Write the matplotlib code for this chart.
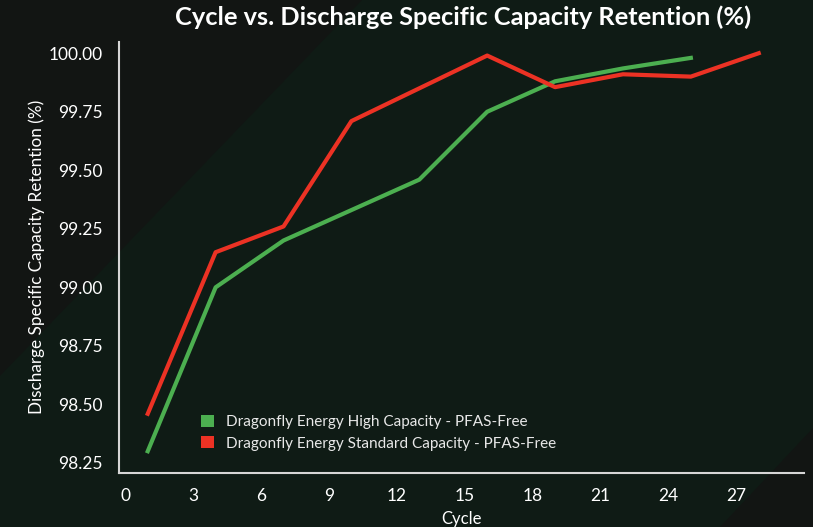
import matplotlib
matplotlib.use("Agg")
import matplotlib.pyplot as plt
from matplotlib.patches import Polygon, Patch

cycles_high = [1, 4, 7, 10, 13, 16, 19, 22, 25]
retention_high = [98.30, 99.00, 99.20, 99.33, 99.46, 99.75, 99.88, 99.935, 99.98]

cycles_std = [1, 4, 7, 10, 13, 16, 19, 22, 25, 28]
retention_std = [98.46, 99.15, 99.26, 99.71, 99.85, 99.99, 99.855, 99.91, 99.90, 100.00]

x_ticks = [0, 3, 6, 9, 12, 15, 18, 21, 24, 27]
y_ticks = [98.25, 98.50, 98.75, 99.00, 99.25, 99.50, 99.75, 100.00]

labels = ["Dragonfly Energy High Capacity - PFAS-Free",
          "Dragonfly Energy Standard Capacity - PFAS-Free"]
green = "#4caf50"
red = "#ec3224"
bg = "#0f1b15"
dark = "#121513"

plt.rcParams['font.family'] = ['Lato', 'DejaVu Sans']

fig = plt.figure(figsize=(8.13, 5.27), dpi=100)
fig.patch.set_facecolor(bg)

# background axes with the dark diagonal corners
W, H = 813, 527
bgax = fig.add_axes([0, 0, 1, 1], zorder=-1)
bgax.set_xlim(0, 1)
bgax.set_ylim(0, 1)
bgax.axis("off")
tl = [(0, 1), (362 / W, 1), (0, 1 - 376 / H)]
br = [(1, 1 - 428 / H), (1, 0), (720 / W, 0)]
for pts in (tl, br):
    bgax.add_patch(Polygon(pts, closed=True, facecolor=dark, edgecolor="none"))

ax = fig.add_axes([119 / W, 1 - 473 / H, 685 / W, 431.5 / H], zorder=1)
ax.set_facecolor("none")

ax.plot(cycles_high, retention_high, color=green, lw=3, solid_joinstyle="round")
ax.plot(cycles_std, retention_std, color=red, lw=3, solid_joinstyle="round")

ax.set_xlim(-0.27, 30)
ax.set_ylim(98.207, 100.05)
ax.set_xticks(x_ticks)
ax.set_yticks(y_ticks)
ax.set_yticklabels(["%.2f" % v for v in y_ticks])
ax.tick_params(length=0, colors="white", labelsize=12.5)
ax.tick_params(axis="x", pad=11)
ax.tick_params(axis="y", pad=12)

for s in ["top", "right"]:
    ax.spines[s].set_visible(False)
for s in ["left", "bottom"]:
    ax.spines[s].set_color("#d6d6d6")
    ax.spines[s].set_linewidth(1.5)

ax.set_xlabel("Cycle", color="white", fontsize=12, labelpad=5)
ax.set_ylabel("Discharge Specific Capacity Retention (%)", color="white",
              fontsize=12.3, labelpad=2)
fig.text(463 / W, 1 - 17 / H, "Cycle vs. Discharge Specific Capacity Retention (%)",
         color="white", fontsize=18.3, fontweight="bold", ha="center", va="center")

handles = [Patch(facecolor=green, edgecolor="none"),
           Patch(facecolor=red, edgecolor="none")]
leg = ax.legend(handles, labels, loc="lower left", bbox_to_anchor=(0.1, 0.02),
                frameon=False, fontsize=11, handlelength=0.85, handleheight=0.85,
                handletextpad=0.8, labelspacing=0.45)
for t in leg.get_texts():
    t.set_color("#e8e8e8")

fig.savefig("out.png", dpi=100, facecolor=fig.get_facecolor())
